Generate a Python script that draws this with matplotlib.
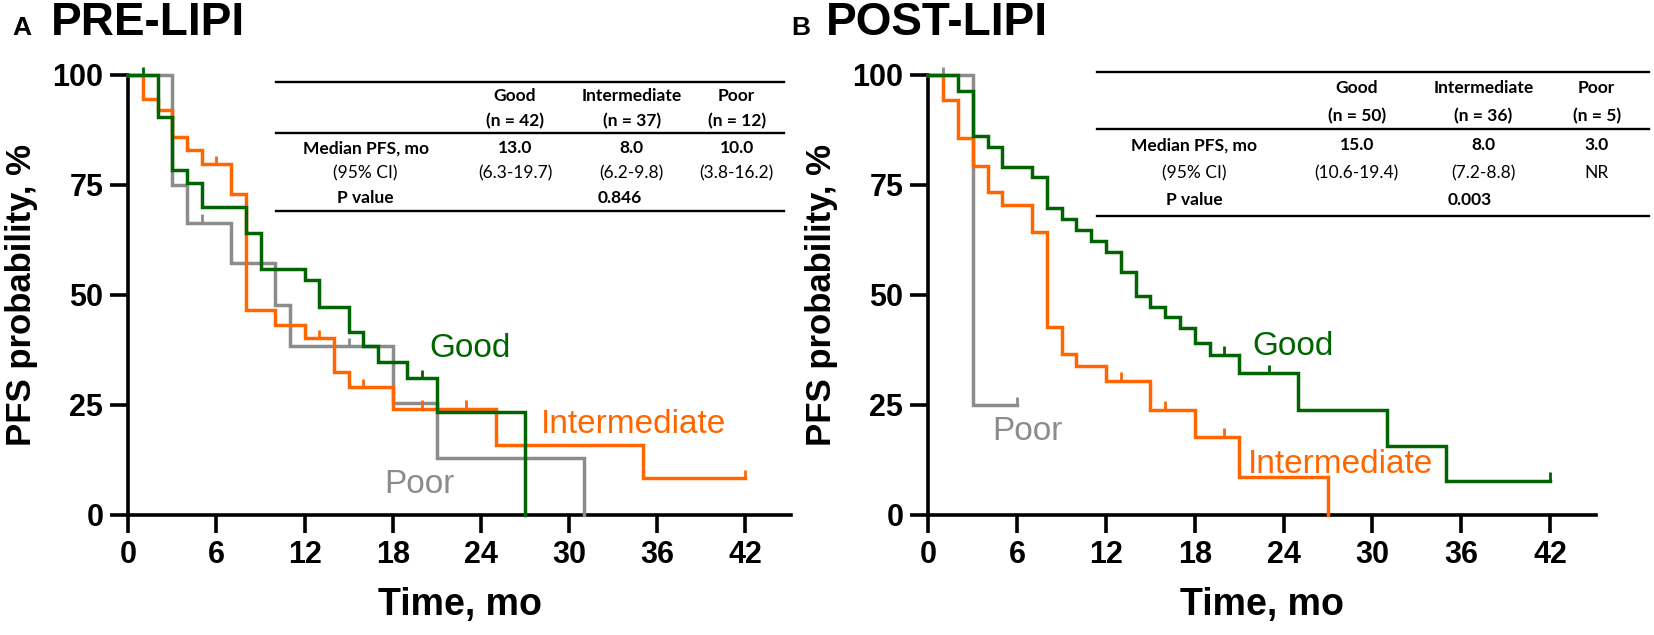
import matplotlib
matplotlib.use("Agg")
import matplotlib.pyplot as plt
from matplotlib.lines import Line2D

# ---------------- data ----------------
# PRE-LIPI (panel A)
pre_good_t = [0, 2, 3, 4, 5, 8, 9, 12, 13, 15, 16, 17, 19, 21, 27]
pre_good_s = [100, 90.4, 78.4, 75.4, 70.1, 64.2, 55.8, 53.4, 47.3, 41.7, 38.4, 34.8, 31.1, 23.5, 0]
pre_good_end = 27
pre_good_cens_t = [1, 20]
pre_good_cens_s = [100, 31.1]

pre_int_t = [0, 1, 2, 3, 4, 5, 7, 8, 10, 12, 14, 15, 18, 25, 35]
pre_int_s = [100, 94.5, 92.0, 86.0, 83.0, 79.8, 73.0, 46.6, 43.2, 40.2, 32.6, 29.0, 24.2, 15.9, 8.3]
pre_int_end = 42
pre_int_cens_t = [6, 13, 16, 20, 23, 42]
pre_int_cens_s = [79.8, 40.2, 29.0, 24.2, 24.2, 8.3]

pre_poor_t = [0, 3, 4, 7, 10, 11, 18, 21, 31]
pre_poor_s = [100, 75.0, 66.4, 57.2, 47.7, 38.4, 25.5, 12.9, 0]
pre_poor_end = 31
pre_poor_cens_t = [5, 15]
pre_poor_cens_s = [66.4, 38.4]

# POST-LIPI (panel B)
post_good_t = [0, 2, 3, 4, 5, 7, 8, 9, 10, 11, 12, 13, 14, 15, 16, 17, 18, 19, 21, 25, 31, 35]
post_good_s = [100, 96.4, 86.1, 83.6, 79.2, 76.9, 69.7, 67.2, 64.8, 62.3, 59.8, 55.3, 49.8,
               47.2, 44.9, 42.4, 39.2, 36.4, 32.2, 23.9, 15.7, 7.8]
post_good_end = 42
post_good_cens_t = [20, 23, 42]
post_good_cens_s = [36.4, 32.2, 7.8]

post_int_t = [0, 1, 2, 3, 4, 5, 7, 8, 9, 10, 12, 15, 18, 21, 27]
post_int_s = [100, 94.3, 85.6, 79.3, 73.3, 70.5, 64.4, 42.8, 36.6, 33.9, 30.5, 23.9, 17.8, 8.7, 0]
post_int_end = 27
post_int_cens_t = [13, 16, 20]
post_int_cens_s = [30.5, 23.9, 17.8]

post_poor_t = [0, 3]
post_poor_s = [100, 25]
post_poor_end = 6
post_poor_cens_t = [1, 6]
post_poor_cens_s = [100, 25]

x_ticks = [0, 6, 12, 18, 24, 30, 36, 42]
y_ticks = [0, 25, 50, 75, 100]

pre_table_cols = ["Good", "Intermediate", "Poor"]
pre_table_n = ["(n = 42)", "(n = 37)", "(n = 12)"]
pre_table_median = ["13.0", "8.0", "10.0"]
pre_table_ci = ["(6.3-19.7)", "(6.2-9.8)", "(3.8-16.2)"]
pre_table_p = "0.846"

post_table_cols = ["Good", "Intermediate", "Poor"]
post_table_n = ["(n = 50)", "(n = 36)", "(n = 5)"]
post_table_median = ["15.0", "8.0", "3.0"]
post_table_ci = ["(10.6-19.4)", "(7.2-8.8)", "NR"]
post_table_p = "0.003"

# ---------------- style ----------------
W, H = 1654, 635
C_GOOD = "#006400"
C_INT = "#FF6600"
C_POOR = "#8C8C8C"
AX_FONT = ["Liberation Sans", "DejaVu Sans"]
TB_FONT = ["Lato", "DejaVu Sans"]

fig = plt.figure(figsize=(W / 100, H / 100), dpi=100)


def fx(px):
    return px / W


def fy(py):
    return 1 - py / H


def km(ax, t, s, end, ct, cs, color):
    xs = list(t) + [end]
    ys = list(s) + [s[-1]]
    ax.step(xs, ys, where="post", color=color, lw=2.5, clip_on=False, zorder=3,
            solid_joinstyle="miter")
    ax.vlines(ct, cs, [v + 1.9 for v in cs], color=color, lw=2.0, clip_on=False, zorder=3)


def setup(ax):
    ax.set_xlim(0, 45.1)
    ax.set_ylim(0, 100)
    for sp in ["top", "right"]:
        ax.spines[sp].set_visible(False)
    for sp in ["left", "bottom"]:
        ax.spines[sp].set_linewidth(2.6)
        ax.spines[sp].set_capstyle("projecting")
    ax.set_xticks(x_ticks)
    ax.set_yticks(y_ticks)
    ax.tick_params(length=13, width=2.6, pad=5, labelsize=22)
    for lab in ax.get_xticklabels() + ax.get_yticklabels():
        lab.set_fontfamily(AX_FONT)
        lab.set_fontweight("bold")
    ax.set_xlabel("Time, mo", fontsize=27, fontweight="bold", family=AX_FONT, labelpad=12)
    ax.set_ylabel("PFS probability, %", fontsize=25, fontweight="bold", family=AX_FONT, labelpad=10)


def table(x0, x1, lines_y, rows_y, col_x, label_x, p_x, cols, ns, med, ci, p):
    for ly in lines_y:
        fig.add_artist(Line2D([fx(x0), fx(x1)], [fy(ly), fy(ly)], color="black", lw=1.7,
                              transform=fig.transFigure))
    kw = dict(ha="center", va="center", family=TB_FONT, fontsize=12.5)
    for cx, c, n, m, ciq in zip(col_x, cols, ns, med, ci):
        fig.text(fx(cx), fy(rows_y[0]), c, fontweight="bold", **kw)
        fig.text(fx(cx), fy(rows_y[1]), n, fontweight="bold", **kw)
        fig.text(fx(cx), fy(rows_y[2]), m, fontweight="bold", **kw)
        fig.text(fx(cx), fy(rows_y[3]), ciq, fontweight="normal", **kw)
    fig.text(fx(label_x), fy(rows_y[2]), "Median PFS, mo", fontweight="bold", **kw)
    fig.text(fx(label_x), fy(rows_y[3]), "(95% CI)", fontweight="normal", **kw)
    fig.text(fx(label_x), fy(rows_y[4]), "P value", fontweight="bold", **kw)
    fig.text(fx(p_x), fy(rows_y[4]), p, fontweight="bold", **kw)


# axes: y=100 at py=75, y=0 at py=515
ax_bottom = fy(515)
ax_h = (515 - 75) / H
axA = fig.add_axes([fx(128.3), ax_bottom, (791 - 128.3) / W, ax_h])
axB = fig.add_axes([fx(928.3), ax_bottom, (1596 - 928.3) / W, ax_h])
for ax in (axA, axB):
    setup(ax)

km(axA, pre_poor_t, pre_poor_s, pre_poor_end, pre_poor_cens_t, pre_poor_cens_s, C_POOR)
km(axA, pre_int_t, pre_int_s, pre_int_end, pre_int_cens_t, pre_int_cens_s, C_INT)
km(axA, pre_good_t, pre_good_s, pre_good_end, pre_good_cens_t, pre_good_cens_s, C_GOOD)

km(axB, post_poor_t, post_poor_s, post_poor_end, post_poor_cens_t, post_poor_cens_s, C_POOR)
km(axB, post_int_t, post_int_s, post_int_end, post_int_cens_t, post_int_cens_s, C_INT)
km(axB, post_good_t, post_good_s, post_good_end, post_good_cens_t, post_good_cens_s, C_GOOD)

lab_kw = dict(fontsize=24, family=AX_FONT, ha="left", va="baseline")
axA.text(20.5, 35.9, "Good", color=C_GOOD, **lab_kw)
axA.text(28.1, 18.6, "Intermediate", color=C_INT, **lab_kw)
axA.text(17.4, 5.0, "Poor", color=C_POOR, **lab_kw)
axB.text(21.9, 36.4, "Good", color=C_GOOD, **lab_kw)
axB.text(21.6, 9.5, "Intermediate", color=C_INT, **lab_kw)
axB.text(4.3, 17.0, "Poor", color=C_POOR, **lab_kw)

# panel titles
fig.text(fx(12), fy(35), "A", fontsize=19, fontweight="bold", family=AX_FONT, va="baseline")
fig.text(fx(51), fy(35), "PRE-LIPI", fontsize=33, fontweight="bold", family=AX_FONT, va="baseline")
fig.text(fx(791), fy(35), "B", fontsize=19, fontweight="bold", family=AX_FONT, va="baseline")
fig.text(fx(826), fy(35), "POST-LIPI", fontsize=33, fontweight="bold", family=AX_FONT, va="baseline")

table(275.7, 784, [81.7, 132.7, 210.7], [96, 121, 148.3, 173.3, 197.7],
      [515, 631.7, 736.7], 365.7, 620,
      pre_table_cols, pre_table_n, pre_table_median, pre_table_ci, pre_table_p)
table(1097, 1649, [72, 129.5, 215.5], [88.3, 116, 145.5, 173.3, 200],
      [1356.7, 1483.3, 1596.7], 1194, 1470,
      post_table_cols, post_table_n, post_table_median, post_table_ci, post_table_p)

fig.savefig("out.png", dpi=100)
